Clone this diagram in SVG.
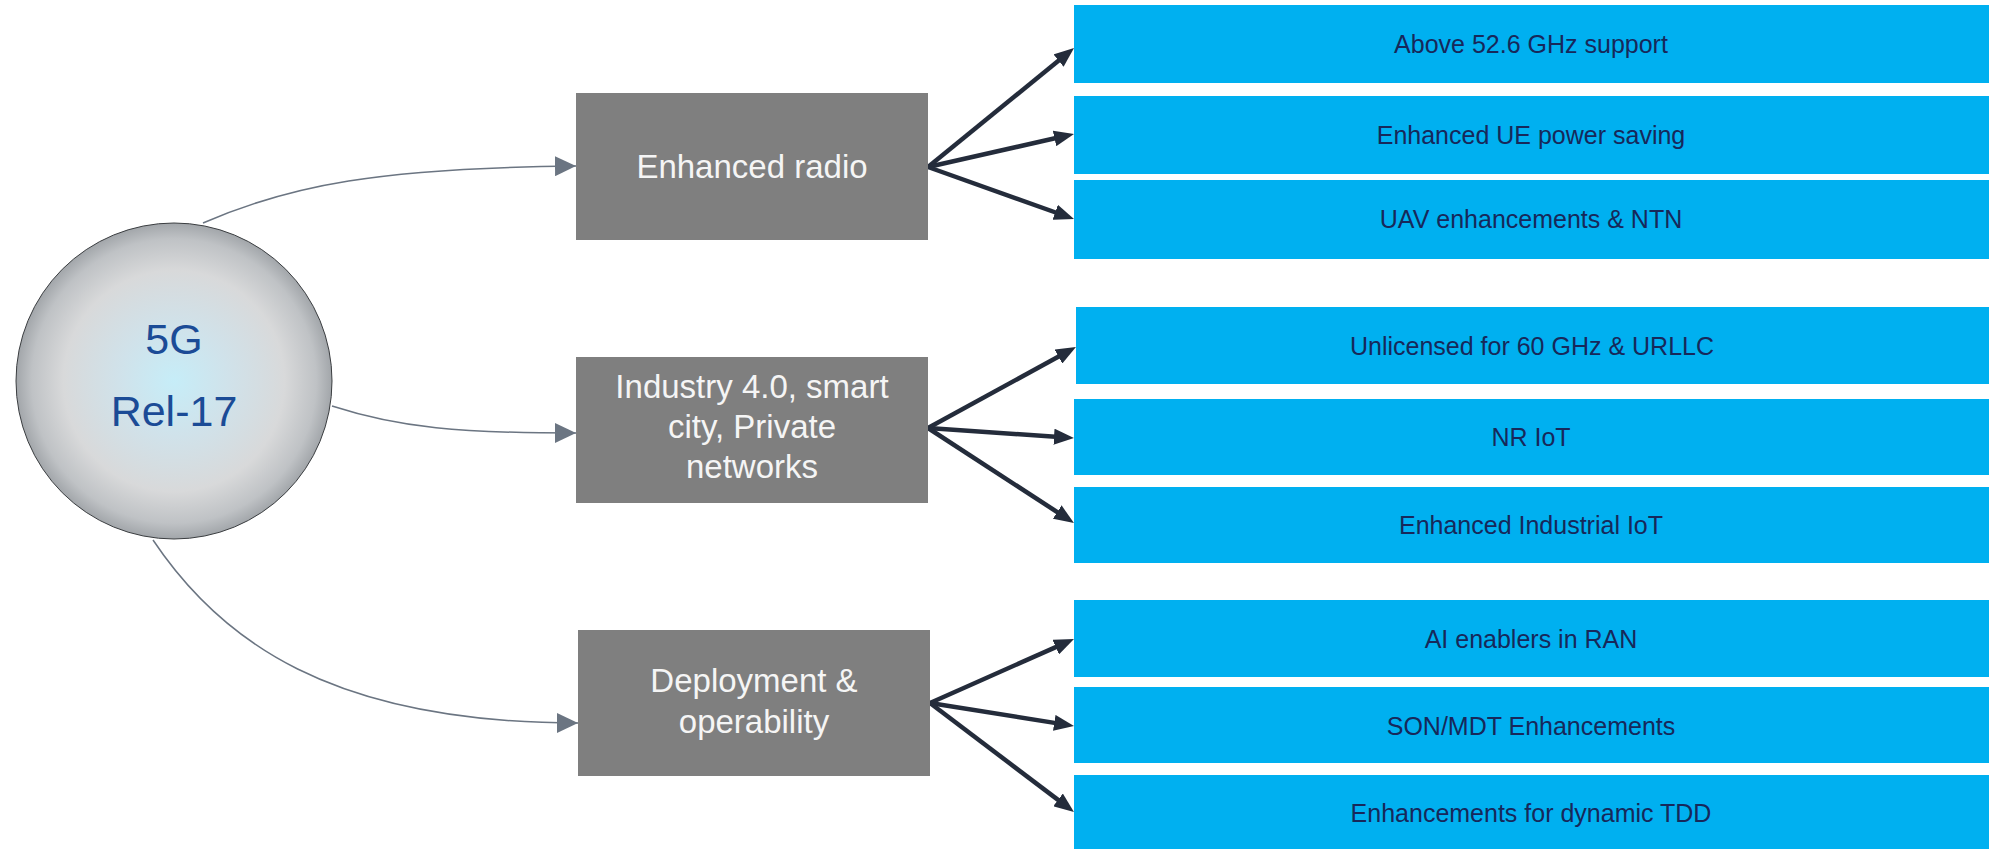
<svg xmlns="http://www.w3.org/2000/svg" width="2003" height="849" viewBox="0 0 2003 849">
<style>
.cat{fill:#7f7f7f}
.cat-t{font-family:"Liberation Sans",Arial,sans-serif;font-size:33px;fill:#f5f5f5;text-anchor:middle}
.item{fill:#00b0f0}
.item-t{font-family:"Liberation Sans",Arial,sans-serif;font-size:25px;fill:#17285a;text-anchor:middle}
.thin{fill:none;stroke:#6b7582;stroke-width:1.5}
.thick{fill:none;stroke:#242c3b;stroke-width:4.5}
.core-t{font-family:"Liberation Sans",Arial,sans-serif;font-size:43px;fill:#1b4b96;text-anchor:middle}
</style>
<defs>
<radialGradient id="sphere" cx="0.5" cy="0.5" r="0.5">
<stop offset="0" stop-color="#c6edf8"/>
<stop offset="0.35" stop-color="#d0e2ea"/>
<stop offset="0.7" stop-color="#d8d9da"/>
<stop offset="0.9" stop-color="#bfc2c5"/>
<stop offset="1" stop-color="#a2a6aa"/>
</radialGradient>
<marker id="ag" viewBox="0 -10 21 20" markerWidth="21" markerHeight="20" refX="21" refY="0" orient="auto" markerUnits="userSpaceOnUse">
<path d="M0,-10 L21,0 L0,10 z" fill="#6b7582"/>
</marker>
<marker id="ad" viewBox="0 -8 20 16" markerWidth="20" markerHeight="16" refX="5" refY="0" orient="auto" markerUnits="userSpaceOnUse">
<path d="M0,-8 L20,0 L0,8 z" fill="#242c3b"/>
</marker>
</defs>
<rect width="2003" height="849" fill="#ffffff"/>

<g id="connectors">
<path class="thin" d="M203,223 C290,185 380,168 576,166" marker-end="url(#ag)"/>
<path class="thin" d="M332,406 C400,428 460,433 576,433" marker-end="url(#ag)"/>
<path class="thin" d="M153,540 C220,640 330,723 578,723" marker-end="url(#ag)"/>
<path class="thick" d="M928,167 L1062.4,57.5" marker-end="url(#ad)"/>
<path class="thick" d="M928,167 L1059.4,137.3" marker-end="url(#ad)"/>
<path class="thick" d="M928,167 L1059.9,214" marker-end="url(#ad)"/>
<path class="thick" d="M928,428 L1062.8,354.2" marker-end="url(#ad)"/>
<path class="thick" d="M928,428 L1059,437" marker-end="url(#ad)"/>
<path class="thick" d="M928,428 L1061.4,514.8" marker-end="url(#ad)"/>
<path class="thick" d="M930,703 L1060.3,645.1" marker-end="url(#ad)"/>
<path class="thick" d="M930,703 L1059.2,723.6" marker-end="url(#ad)"/>
<path class="thick" d="M930,703 L1062,802.9" marker-end="url(#ad)"/>
</g>

<g id="core">
<circle cx="174" cy="381" r="158" fill="url(#sphere)" stroke="#3a3d40" stroke-width="1"/>
<text class="core-t" x="174" y="354">5G</text>
<text class="core-t" x="174" y="426">Rel-17</text>
</g>

<g id="cat-radio">
<rect class="cat" x="576" y="93" width="352" height="147"/>
<text class="cat-t" x="752" y="178">Enhanced radio</text>
</g>
<g id="cat-industry">
<rect class="cat" x="576" y="357" width="352" height="146"/>
<text class="cat-t" x="752" y="398">Industry 4.0, smart</text>
<text class="cat-t" x="752" y="438">city, Private</text>
<text class="cat-t" x="752" y="478">networks</text>
</g>
<g id="cat-deploy">
<rect class="cat" x="578" y="630" width="352" height="146"/>
<text class="cat-t" x="754" y="692">Deployment &amp;</text>
<text class="cat-t" x="754" y="733">operability</text>
</g>

<g id="item1"><rect class="item" x="1074" y="5" width="915" height="78"/><text class="item-t" x="1531" y="53">Above 52.6 GHz support</text></g>
<g id="item2"><rect class="item" x="1074" y="96" width="915" height="78"/><text class="item-t" x="1531" y="144">Enhanced UE power saving</text></g>
<g id="item3"><rect class="item" x="1074" y="180" width="915" height="79"/><text class="item-t" x="1531" y="228">UAV enhancements &amp; NTN</text></g>
<g id="item4"><rect class="item" x="1076" y="307" width="913" height="77"/><text class="item-t" x="1532" y="355">Unlicensed for 60 GHz &amp; URLLC</text></g>
<g id="item5"><rect class="item" x="1074" y="399" width="915" height="76"/><text class="item-t" x="1531" y="446">NR IoT</text></g>
<g id="item6"><rect class="item" x="1074" y="487" width="915" height="76"/><text class="item-t" x="1531" y="534">Enhanced Industrial IoT</text></g>
<g id="item7"><rect class="item" x="1074" y="600" width="915" height="77"/><text class="item-t" x="1531" y="648">AI enablers in RAN</text></g>
<g id="item8"><rect class="item" x="1074" y="687" width="915" height="76"/><text class="item-t" x="1531" y="735">SON/MDT Enhancements</text></g>
<g id="item9"><rect class="item" x="1074" y="775" width="915" height="74"/><text class="item-t" x="1531" y="822">Enhancements for dynamic TDD</text></g>
</svg>
